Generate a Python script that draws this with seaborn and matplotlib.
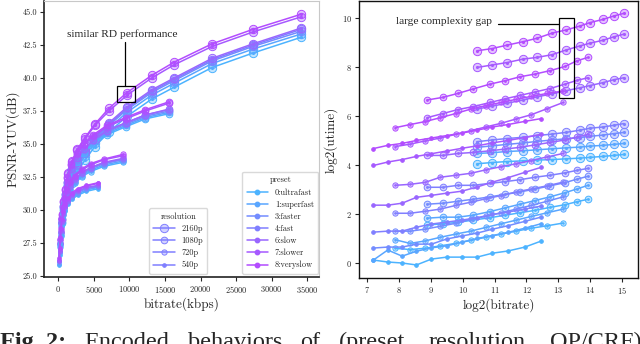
import numpy as np
import pandas as pd
import matplotlib
matplotlib.use("Agg")
import matplotlib.pyplot as plt
from matplotlib.lines import Line2D
from matplotlib.patches import Rectangle
import seaborn as sns

# ---------------- data ----------------
presets = ['0:ultrafast', '1:superfast', '3:faster', '4:fast', '6:slow', '7:slower', '8:veryslow']
preset_ids = [0, 1, 3, 4, 6, 7, 8]
resolutions = ['2160p', '1080p', '720p', '540p']

# log2(bitrate) per CRF point, per resolution
log2br_2160p = [10.45, 10.92, 11.39, 11.89, 12.33, 12.80, 13.24, 13.68, 13.99, 14.40, 14.74, 15.06]
log2br_1080p = [8.88, 9.38, 9.85, 10.32, 10.86, 11.33, 11.80, 12.27, 12.74, 13.21, 13.58, 13.93]
log2br_720p = [7.88, 8.35, 8.82, 9.30, 9.78, 10.25, 10.72, 11.20, 11.68, 12.15, 12.65, 13.15]
log2br_540p = [7.20, 7.65, 8.10, 8.55, 9.02, 9.50, 9.97, 10.45, 10.93, 11.42, 11.95, 12.45]

# log2(utime), rows in preset order 0,1,3,4,6,7,8
utime_2160p = [
    [4.05, 4.10, 4.14, 4.17, 4.20, 4.22, 4.25, 4.28, 4.31, 4.35, 4.39, 4.43],
    [4.47, 4.50, 4.55, 4.58, 4.62, 4.66, 4.70, 4.73, 4.77, 4.80, 4.84, 4.88],
    [4.72, 4.78, 4.84, 4.90, 4.96, 5.02, 5.07, 5.12, 5.17, 5.22, 5.28, 5.33],
    [4.95, 5.02, 5.08, 5.13, 5.20, 5.26, 5.33, 5.42, 5.50, 5.55, 5.62, 5.69],
    [6.28, 6.40, 6.52, 6.65, 6.78, 6.90, 7.03, 7.15, 7.24, 7.36, 7.48, 7.56],
    [7.98, 8.08, 8.18, 8.32, 8.39, 8.50, 8.69, 8.86, 8.97, 9.09, 9.23, 9.34],
    [8.66, 8.75, 8.89, 9.03, 9.17, 9.38, 9.51, 9.67, 9.81, 9.94, 10.08, 10.19],
]
utime_1080p = [
    [1.55, 1.60, 1.66, 1.75, 1.85, 1.95, 2.05, 2.15, 2.27, 2.38, 2.50, 2.60],
    [1.83, 1.87, 1.87, 1.95, 2.10, 2.25, 2.40, 2.55, 2.70, 2.87, 3.02, 3.17],
    [2.40, 2.44, 2.52, 2.60, 2.70, 2.80, 2.90, 3.02, 3.15, 3.28, 3.42, 3.54],
    [3.09, 3.09, 3.17, 3.17, 3.25, 3.32, 3.40, 3.50, 3.58, 3.68, 3.78, 3.86],
    [4.39, 4.39, 4.47, 4.51, 4.58, 4.65, 4.72, 4.82, 4.92, 5.02, 5.14, 5.25],
    [5.93, 6.10, 6.26, 6.38, 6.55, 6.70, 6.84, 6.98, 7.12, 7.30, 7.45, 7.56],
    [6.65, 6.76, 6.92, 7.10, 7.30, 7.44, 7.60, 7.71, 7.85, 8.02, 8.25, 8.39],
]
utime_720p = [
    [0.60, 0.55, 0.60, 0.70, 0.80, 0.92, 1.05, 1.18, 1.30, 1.42, 1.52, 1.63],
    [0.95, 0.80, 0.90, 1.05, 1.18, 1.30, 1.45, 1.60, 1.75, 1.90, 2.05, 2.20],
    [1.30, 1.30, 1.38, 1.50, 1.62, 1.78, 1.90, 2.05, 2.20, 2.35, 2.52, 2.70],
    [2.03, 2.03, 2.11, 2.20, 2.35, 2.48, 2.62, 2.75, 2.90, 3.02, 3.15, 3.30],
    [3.17, 3.21, 3.29, 3.50, 3.58, 3.66, 3.80, 3.93, 4.05, 4.18, 4.33, 4.47],
    [4.75, 4.85, 4.98, 5.10, 5.25, 5.40, 5.55, 5.70, 5.88, 6.05, 6.30, 6.55],
    [5.52, 5.65, 5.77, 5.93, 6.10, 6.28, 6.42, 6.55, 6.68, 6.80, 6.92, 7.02],
]
utime_540p = [
    [0.12, 0.04, 0.00, -0.08, 0.16, 0.24, 0.24, 0.24, 0.40, 0.49, 0.65, 0.89],
    [0.12, 0.53, 0.28, 0.48, 0.62, 0.70, 0.85, 1.00, 1.12, 1.25, 1.42, 1.60],
    [0.61, 0.65, 0.65, 0.77, 0.77, 0.98, 1.10, 1.22, 1.38, 1.52, 1.70, 1.87],
    [1.26, 1.30, 1.30, 1.46, 1.59, 1.67, 1.75, 1.85, 1.98, 2.08, 2.20, 2.32],
    [2.36, 2.36, 2.44, 2.68, 2.76, 2.85, 2.93, 3.10, 3.30, 3.48, 3.70, 3.90],
    [3.98, 4.12, 4.22, 4.35, 4.46, 4.57, 4.68, 4.78, 4.90, 5.00, 5.12, 5.25],
    [4.67, 4.80, 4.88, 5.00, 5.10, 5.20, 5.30, 5.42, 5.55, 5.65, 5.78, 5.89],
]

# PSNR-YUV (dB), rows in preset order 0,1,3,4,6,7,8
psnr_2160p = [
    [31.2, 32.0, 32.9, 33.8, 34.8, 35.9, 37.1, 38.4, 39.3, 40.8, 41.9, 43.10],
    [31.5, 32.3, 33.2, 34.1, 35.1, 36.2, 37.4, 38.7, 39.6, 41.1, 42.2, 43.35],
    [31.7, 32.5, 33.4, 34.3, 35.3, 36.4, 37.6, 38.9, 39.8, 41.3, 42.4, 43.55],
    [31.8, 32.6, 33.5, 34.4, 35.4, 36.5, 37.7, 39.0, 39.9, 41.4, 42.5, 43.70],
    [31.9, 32.7, 33.6, 34.5, 35.5, 36.6, 37.8, 39.1, 40.0, 41.5, 42.6, 43.80],
    [32.7, 33.6, 34.5, 35.4, 36.4, 37.5, 38.7, 40.0, 41.0, 42.4, 43.5, 44.65],
    [32.8, 33.7, 34.6, 35.5, 36.5, 37.7, 38.9, 40.2, 41.2, 42.6, 43.7, 44.85],
]
psnr_1080p = [
    [29.0, 30.0, 30.9, 31.8, 32.8, 33.6, 34.3, 35.0, 35.7, 36.3, 36.9, 37.30],
    [29.1, 30.1, 31.0, 31.9, 32.9, 33.7, 34.4, 35.1, 35.8, 36.4, 37.0, 37.40],
    [29.2, 30.2, 31.1, 32.0, 33.0, 33.8, 34.5, 35.2, 35.9, 36.5, 37.1, 37.50],
    [29.3, 30.3, 31.2, 32.1, 33.1, 33.9, 34.6, 35.3, 36.0, 36.6, 37.2, 37.60],
    [29.3, 30.3, 31.2, 32.1, 33.1, 33.9, 34.6, 35.3, 36.0, 36.6, 37.2, 37.65],
    [29.6, 30.6, 31.5, 32.4, 33.4, 34.2, 34.9, 35.6, 36.3, 36.9, 37.5, 38.10],
    [29.7, 30.7, 31.6, 32.5, 33.5, 34.3, 35.0, 35.7, 36.4, 37.0, 37.6, 38.20],
]
psnr_720p = [
    [27.2, 28.0, 28.8, 29.6, 30.3, 30.9, 31.5, 32.0, 32.5, 32.9, 33.3, 33.60],
    [27.3, 28.1, 28.9, 29.7, 30.4, 31.0, 31.6, 32.1, 32.6, 33.0, 33.4, 33.70],
    [27.4, 28.2, 29.0, 29.8, 30.5, 31.1, 31.7, 32.2, 32.7, 33.1, 33.5, 33.80],
    [27.5, 28.3, 29.1, 29.9, 30.6, 31.2, 31.8, 32.3, 32.8, 33.2, 33.55, 33.85],
    [27.5, 28.3, 29.1, 29.9, 30.6, 31.2, 31.8, 32.3, 32.8, 33.2, 33.6, 33.90],
    [27.7, 28.5, 29.3, 30.1, 30.8, 31.4, 32.0, 32.5, 33.0, 33.4, 33.8, 34.10],
    [27.8, 28.6, 29.4, 30.2, 30.9, 31.5, 32.1, 32.6, 33.1, 33.5, 33.85, 34.20],
]
psnr_540p = [
    [25.8, 26.6, 27.4, 28.1, 28.8, 29.4, 29.9, 30.4, 30.8, 31.1, 31.4, 31.60],
    [25.9, 26.7, 27.5, 28.2, 28.9, 29.5, 30.0, 30.5, 30.9, 31.2, 31.5, 31.70],
    [26.0, 26.8, 27.6, 28.3, 29.0, 29.6, 30.1, 30.6, 31.0, 31.3, 31.6, 31.75],
    [26.1, 26.9, 27.7, 28.4, 29.1, 29.7, 30.2, 30.7, 31.1, 31.4, 31.65, 31.80],
    [26.1, 26.9, 27.7, 28.4, 29.1, 29.7, 30.2, 30.7, 31.1, 31.4, 31.7, 31.85],
    [26.2, 27.0, 27.8, 28.5, 29.2, 29.8, 30.3, 30.8, 31.2, 31.5, 31.8, 32.00],
    [26.3, 27.1, 27.9, 28.6, 29.3, 29.9, 30.4, 30.9, 31.3, 31.6, 31.85, 32.05],
]

log2br = {'2160p': log2br_2160p, '1080p': log2br_1080p, '720p': log2br_720p, '540p': log2br_540p}
utime = {'2160p': utime_2160p, '1080p': utime_1080p, '720p': utime_720p, '540p': utime_540p}
psnr = {'2160p': psnr_2160p, '1080p': psnr_1080p, '720p': psnr_720p, '540p': psnr_540p}

rows = []
for r in resolutions:
    for i, p in enumerate(presets):
        for x, u, q in zip(log2br[r], utime[r][i], psnr[r][i]):
            rows.append(dict(resolution=r, preset=p, log2br=x, kbps=2 ** x, log2ut=u, psnr=q))
df = pd.DataFrame(rows)

# ---------------- style ----------------
sns.set_theme(style="ticks")
plt.rcParams['font.family'] = ['cmr10', 'DejaVu Serif']
plt.rcParams['mathtext.fontset'] = 'cm'
plt.rcParams['axes.formatter.use_mathtext'] = True
plt.rcParams['axes.unicode_minus'] = False

cmap = plt.get_cmap('cool')
colors = {p: cmap(0.3 + 0.4 * pid / 8) for p, pid in zip(presets, preset_ids)}
msize = {'2160p': 6.0, '1080p': 4.8, '720p': 3.8, '540p': 2.6}
dotsize = {'2160p': 5, '1080p': 4, '720p': 3, '540p': 0}

fig = plt.figure(figsize=(6.4, 3.44), dpi=100)
ax1 = fig.add_axes([0.069, 0.195, 0.430, 0.802])
ax2 = fig.add_axes([0.561, 0.192, 0.436, 0.805])

z = 3
for r in resolutions:
    for p in presets:
        d = df[(df.resolution == r) & (df.preset == p)]
        c = colors[p]
        face = (c[0], c[1], c[2], 0.35) if r != '540p' else c
        for ax, xcol, ycol in ((ax1, 'kbps', 'psnr'), (ax2, 'log2br', 'log2ut')):
            sns.lineplot(data=d, x=xcol, y=ycol, ax=ax, color=c, sort=False, estimator=None,
                         marker='o', markersize=msize[r], markerfacecolor=face,
                         markeredgecolor=c, markeredgewidth=0.7, linewidth=1.1,
                         legend=False, zorder=z)
            if dotsize[r]:
                sns.scatterplot(data=d, x=xcol, y=ycol, ax=ax, color=c, s=dotsize[r],
                                linewidth=0, legend=False, zorder=z + 0.5)
        z += 1

# ---------------- left axes ----------------
ax1.set_xlim(-1970, 36700)
ax1.set_ylim(24.9, 45.85)
ax1.set_xticks(np.arange(0, 35001, 5000))
ax1.set_yticks(np.arange(25, 45.1, 2.5))
ax1.yaxis.set_major_formatter(matplotlib.ticker.FormatStrFormatter('%.1f'))
ax1.set_xlabel('bitrate(kbps)', fontsize=9.5, labelpad=2)
ax1.set_ylabel('PSNR-YUV(dB)', fontsize=9.5, labelpad=2)
for s in ('top', 'right'):
    ax1.spines[s].set_color('#c8c8c8')
    ax1.spines[s].set_linewidth(0.8)
for s in ('left', 'bottom'):
    ax1.spines[s].set_color('#222222')
    ax1.spines[s].set_linewidth(1.2)
ax1.tick_params(labelsize=6, length=3, width=0.8, pad=2)

ax1.add_patch(Rectangle((8300, 38.2), 2530, 1.22, fill=False, edgecolor='black', linewidth=0.9, zorder=100))
ax1.plot([9420, 9420], [39.42, 42.75], color='black', linewidth=0.9, zorder=100)
ax1.text(9000, 43.35, 'similar RD performance', ha='center', va='center', fontsize=8.2,
         family='Liberation Serif', zorder=101)

# legends on left axes
legc = cmap(0.5)
res_handles = []
for r in resolutions:
    face = (legc[0], legc[1], legc[2], 0.35) if r != '540p' else legc
    res_handles.append(Line2D([0], [0], color=legc, marker='o', markersize=msize[r],
                              markerfacecolor=face, markeredgecolor=legc,
                              markeredgewidth=0.7, linewidth=1.1))
pre_handles = [Line2D([0], [0], color=colors[p], marker='o', markersize=3.2, linewidth=1.1)
               for p in presets]
leg1 = ax1.legend(res_handles, resolutions, title='resolution', loc='lower right',
                  bbox_to_anchor=(0.593, 0.012), fontsize=6, title_fontsize=6,
                  frameon=True, fancybox=True, borderaxespad=0, handlelength=2.6,
                  labelspacing=0.45, borderpad=0.5, handletextpad=0.8)
leg1.get_frame().set_edgecolor('#d0d0d0')
ax1.add_artist(leg1)
leg2 = ax1.legend(pre_handles, presets, title='preset', loc='lower right',
                  bbox_to_anchor=(0.996, 0.012), fontsize=6, title_fontsize=6,
                  frameon=True, fancybox=True, borderaxespad=0, handlelength=2.6,
                  labelspacing=0.45, borderpad=0.5, handletextpad=0.8)
leg2.get_frame().set_edgecolor('#d0d0d0')

# ---------------- right axes ----------------
ax2.set_xlim(6.75, 15.5)
ax2.set_ylim(-0.61, 10.69)
ax2.set_xticks(range(7, 16))
ax2.set_yticks(range(0, 11, 2))
ax2.set_xlabel('log2(bitrate)', fontsize=9.5, labelpad=2)
ax2.set_ylabel('log2(utime)', fontsize=9.5, labelpad=3)
for s in ax2.spines.values():
    s.set_color('#111111')
    s.set_linewidth(1.0)
ax2.tick_params(labelsize=6, length=3, width=0.8, pad=2)

ax2.add_patch(Rectangle((13.02, 6.75), 0.47, 3.25, fill=False, edgecolor='black', linewidth=0.9, zorder=100))
ax2.plot([11.1, 13.02], [9.76, 9.76], color='black', linewidth=0.9, zorder=100)
ax2.text(9.4, 9.86, 'large complexity gap', ha='center', va='center', fontsize=8.2,
         family='Liberation Serif', zorder=101)

# ---------------- caption (cut off at the bottom) ----------------
words = [('Fig. 2:', 0, 'bold'), ('Encoded', 84, 'normal'), ('behaviors', 188, 'normal'),
         ('of', 300, 'normal'), ('(preset,', 339, 'normal'), ('resolution,', 429, 'normal'),
         ('QP/CRF)', 550, 'normal')]
for w, xp, fw in words:
    fig.text(xp / 640, -0.012, w, fontsize=17.5, family='Liberation Serif', weight=fw,
             ha='left', va='baseline')

fig.savefig('out.png', dpi=100)
